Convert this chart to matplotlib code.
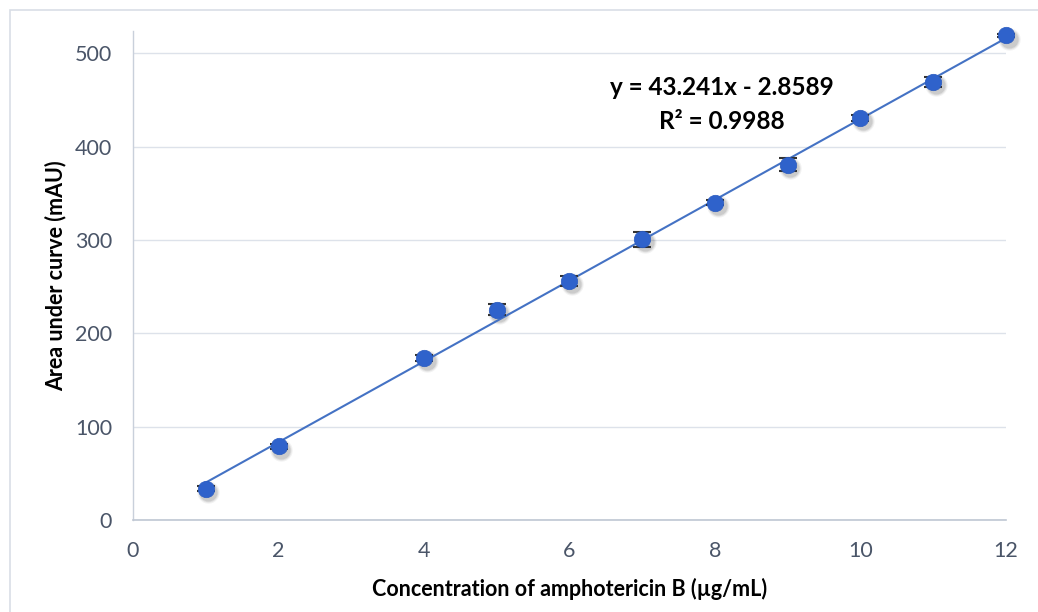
import matplotlib
matplotlib.use("Agg")
import matplotlib.pyplot as plt
import numpy as np
from matplotlib.patches import Rectangle

plt.rcParams['font.family'] = ['Lato', 'DejaVu Sans']

concentration = [1, 2, 4, 5, 6, 7, 8, 9, 10, 11, 12]
area = [34.0, 79.0, 174.0, 225.5, 256.5, 301.0, 340.0, 380.5, 430.5, 469.0, 519.0]
error = [2.5, 3.0, 3.0, 6.0, 5.5, 8.0, 3.0, 7.0, 3.5, 5.0, 1.5]
slope = 43.241
intercept = -2.8589
r_squared = 0.9988
x_ticks = [0, 2, 4, 6, 8, 10, 12]
y_ticks = [0, 100, 200, 300, 400, 500]

W, H = 1038, 612
fig = plt.figure(figsize=(W / 100, H / 100), dpi=100)
ax = fig.add_axes([133 / W, 1 - 520.3 / H, (1006 - 133) / W, (520.3 - 30.7) / H])

# figure frame
fig.patches.append(Rectangle((10 / W, -0.05), 1.1, 1 - 10 / H + 0.05,
                             transform=fig.transFigure, fill=False,
                             edgecolor='#D9DEE6', linewidth=1.2))

tick_color = '#4A5568'
ax.set_xlim(0, 12)
ax.set_ylim(0, 524)
ax.set_xticks(x_ticks)
ax.set_yticks(y_ticks)
ax.tick_params(axis='both', length=0, labelsize=15.5, colors=tick_color)
ax.tick_params(axis='x', pad=15)
ax.tick_params(axis='y', pad=15)
for sp in ['top', 'right']:
    ax.spines[sp].set_visible(False)
ax.spines['left'].set_color('#C9D0DB')
ax.spines['bottom'].set_color('#BFC7D3')
ax.spines['left'].set_linewidth(1.0)
ax.spines['bottom'].set_linewidth(1.2)
ax.yaxis.grid(True, color='#DDE2EA', linewidth=1.0)
ax.set_axisbelow(True)

# trendline
xs = np.array([min(concentration), max(concentration)])
ax.plot(xs, slope * xs + intercept, color='#4472C4', linewidth=1.5, zorder=3)

# soft shadow for markers
cx = np.array(concentration, dtype=float)
cy = np.array(area, dtype=float)
for size, alpha in [(260, 0.05), (210, 0.07), (170, 0.09)]:
    ax.scatter(cx + 0.035, cy - 3.5, s=size, color='#000000', alpha=alpha,
               zorder=2, linewidths=0, clip_on=False)
eb = ax.errorbar(concentration, area, yerr=error, fmt='none', ecolor='#333333',
                 elinewidth=1.0, capsize=6.5, capthick=1.5, zorder=4)
for artist in eb.lines[1] + eb.lines[2]:
    artist.set_clip_on(False)
ax.scatter(concentration, area, s=140, color='#2F62CB', edgecolors='#2A5BC0',
           linewidths=0.5, zorder=5, clip_on=False)

ax.text(8.1, 463, f"y = {slope:.3f}x - {abs(intercept):.4f}", ha='center',
        va='center', fontsize=17.5, fontweight='bold', color='black')
ax.text(8.1, 427, f"R² = {r_squared:.4f}", ha='center', va='center',
        fontsize=17.5, fontweight='bold', color='black')

ax.set_xlabel('Concentration of amphotericin B (µg/mL)', fontsize=15.5,
              fontweight='bold', labelpad=12, color='black')
ax.set_ylabel('Area under curve (mAU)', fontsize=15.5, fontweight='bold',
              labelpad=6, color='black')

fig.savefig('out.png', dpi=100)
